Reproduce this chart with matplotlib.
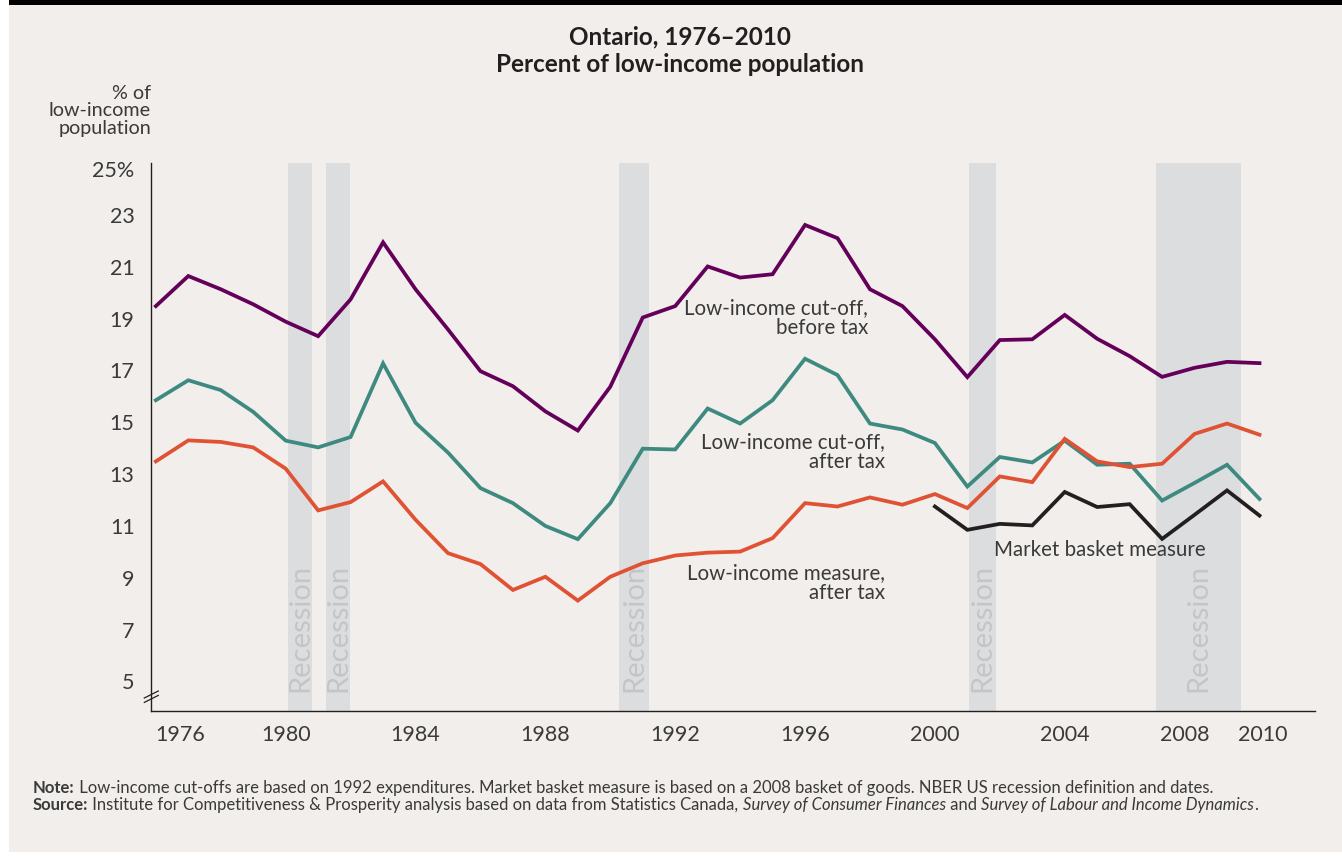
import numpy as np
import matplotlib.pyplot as plt
import matplotlib.transforms as mtransforms
from matplotlib.patches import Rectangle

plt.rcParams['font.family'] = ['Lato', 'DejaVu Sans']

# data
years = list(range(1976, 2011))
lico_before = [19.48, 20.64, 20.13, 19.55, 18.88, 18.32, 19.74, 21.94, 20.13, 18.58,
               16.97, 16.39, 15.42, 14.68, 16.37, 19.04, 19.48, 21.01, 20.58, 20.71,
               22.61, 22.10, 20.13, 19.48, 18.20, 16.74, 18.17, 18.20, 19.14, 18.22,
               17.55, 16.75, 17.10, 17.33, 17.28]
lico_after = [15.85, 16.62, 16.24, 15.40, 14.29, 14.03, 14.43, 17.27, 14.98, 13.83,
              12.46, 11.88, 11.00, 10.49, 11.88, 13.98, 13.95, 15.53, 14.95, 15.85,
              17.45, 16.82, 14.95, 14.72, 14.20, 12.52, 13.66, 13.45, 14.29, 13.36,
              13.40, 11.98, 12.66, 13.36, 12.04]
lim_after = [13.49, 14.30, 14.24, 14.03, 13.21, 11.60, 11.92, 12.72, 11.24, 9.95,
             9.53, 8.53, 9.04, 8.12, 9.04, 9.56, 9.86, 9.97, 10.01, 10.53,
             11.88, 11.75, 12.10, 11.82, 12.23, 11.69, 12.91, 12.69, 14.36, 13.49,
             13.27, 13.40, 14.55, 14.95, 14.52]
mbm_years = list(range(2000, 2011))
mbm = [11.75, 10.85, 11.08, 11.02, 12.31, 11.73, 11.84, 10.50, 11.43, 12.37, 11.40]

rec_start = [1980.08, 1981.25, 1990.27, 2001.05, 2006.82]
rec_end = [1980.82, 1981.99, 1991.20, 2001.89, 2009.43]

xtick_years = [1976, 1980, 1984, 1988, 1992, 1996, 2000, 2004, 2008, 2010]
ytick_vals = [5, 7, 9, 11, 13, 15, 17, 19, 21, 23, 25]
ytick_labels = ['5', '7', '9', '11', '13', '15', '17', '19', '21', '23', '25%']

bg = '#f1eeeb'
txt_col = '#3a3a3a'

fig = plt.figure(figsize=(13.42, 8.56), dpi=100, facecolor=bg)
W, H = 1342, 856

# frame: white left edge, black top bar, white bottom strip
fig.patches.append(Rectangle((0, 0), 9 / W, 1, transform=fig.transFigure,
                             facecolor='white', edgecolor='none', zorder=0))
fig.patches.append(Rectangle((9 / W, 1 - 5 / H), 1, 5 / H, transform=fig.transFigure,
                             facecolor='black', edgecolor='none', zorder=0))
fig.patches.append(Rectangle((0, 0), 1, 4 / H, transform=fig.transFigure,
                             facecolor='white', edgecolor='none', zorder=0))

ax = fig.add_axes([151.3 / W, 1 - 711.3 / H, (1315 - 151.3) / W, (711.3 - 163) / H])
ax.set_facecolor(bg)
ax.set_xlim(1975.86, 2011.71)
ax.set_ylim(3.85, 25)

for s, e in zip(rec_start, rec_end):
    ax.axvspan(s, e, color='#dcdddf', lw=0, zorder=1)
    ax.text((s + e) / 2, 4.59, 'Recession', rotation=90, ha='center', va='bottom',
            fontsize=21, color='#c4c5c7', zorder=2)

lw = 2.7
ax.plot(years, lico_before, color='#64005a', lw=lw, zorder=3, solid_joinstyle='miter')
ax.plot(years, lico_after, color='#3e8a80', lw=lw, zorder=3, solid_joinstyle='miter')
ax.plot(years, lim_after, color='#e05234', lw=lw, zorder=4, solid_joinstyle='miter')
ax.plot(mbm_years, mbm, color='#231f20', lw=lw, zorder=3, solid_joinstyle='miter')

# spines
for side in ['top', 'right']:
    ax.spines[side].set_visible(False)
for side in ['left', 'bottom']:
    ax.spines[side].set_color('#231f20')
    ax.spines[side].set_linewidth(1.0)

ax.set_xticks(xtick_years)
ax.set_xticklabels([str(y) for y in xtick_years])
ax.set_yticks(ytick_vals)
ax.set_yticklabels(ytick_labels)
ax.tick_params(axis='both', length=0, labelsize=15.5, labelcolor=txt_col)
ax.tick_params(axis='x', pad=10)
ax.tick_params(axis='y', pad=12)

# nudge a few labels like the original
shifts = {1976: 24, 2008: -10, 2010: 3}
for lab, yr in zip(ax.get_xticklabels(), xtick_years):
    if yr in shifts:
        lab.set_transform(lab.get_transform() +
                          mtransforms.ScaledTranslation(shifts[yr] / 100, 0, fig.dpi_scale_trans))
for lab, v in zip(ax.get_yticklabels(), ytick_vals):
    if v == 25:
        lab.set_transform(lab.get_transform() +
                          mtransforms.ScaledTranslation(0, -6 / 100, fig.dpi_scale_trans))

# axis break marks
axw = 1315 - 151.3
axh = 711.3 - 163
yc = 14.6 / axh
dx, dy = 7 / axw, 3.5 / axh
for off in [-2.2 / axh, 2.2 / axh]:
    ax.plot([-dx, dx], [yc + off - dy, yc + off + dy], transform=ax.transAxes,
            color='#231f20', lw=0.9, clip_on=False, zorder=5)


def px2x(px):
    return 1976 + (px - 155.7) / 32.46


def py2y(py):
    return 15 + (422.67 - py) / 25.86


# series labels
lab_kw = dict(fontsize=14.8, color=txt_col, linespacing=1.0, zorder=6)
ax.text(px2x(868), py2y(319), 'Low-income cut-off,\nbefore tax', ha='right', va='center', **lab_kw)
ax.text(px2x(885), py2y(452), 'Low-income cut-off,\nafter tax', ha='right', va='center', **lab_kw)
ax.text(px2x(885), py2y(583), 'Low-income measure,\nafter tax', ha='right', va='center', **lab_kw)
ax.text(px2x(994), py2y(550), 'Market basket measure', ha='left', va='center', **lab_kw)

# titles
fig.text(680 / W, 1 - 37 / H, 'Ontario, 1976–2010', ha='center', va='center',
         fontsize=17.5, fontweight='bold', color='#231f20')
fig.text(680 / W, 1 - 64 / H, 'Percent of low-income population', ha='center', va='center',
         fontsize=17.5, fontweight='bold', color='#231f20')
fig.text(151 / W, 1 - 111 / H, '% of\nlow-income\npopulation', ha='right', va='center',
         fontsize=14.2, color=txt_col, linespacing=1.05)


# footnotes with mixed styles
def rich_line(x, y, pieces, size=12):
    styles = {'b': dict(fontweight='bold'), 'n': dict(), 'i': dict(fontstyle='italic')}
    txt, st = pieces[0]
    t = fig.text(x, y, txt, ha='left', va='bottom', fontsize=size, color=txt_col, **styles[st])
    for txt, st in pieces[1:]:
        t = ax.annotate(txt, xy=(1, 0), xycoords=t, ha='left', va='bottom',
                        fontsize=size, color=txt_col, **styles[st])


note = [('Note:', 'b'),
        (' Low-income cut-offs are based on 1992 expenditures. Market basket measure is based on a '
         '2008 basket of goods. NBER US recession definition and dates.', 'n')]
source = [('Source:', 'b'),
          (' Institute for Competitiveness & Prosperity analysis based on data from Statistics Canada, ', 'n'),
          ('Survey of Consumer Finances', 'i'), (' and ', 'n'),
          ('Survey of Labour and Income Dynamics', 'i'), ('.', 'n')]
rich_line(33 / W, 1 - 796 / H, note)
rich_line(33 / W, 1 - 813 / H, source)

fig.savefig('out.png', dpi=100, facecolor=bg)
